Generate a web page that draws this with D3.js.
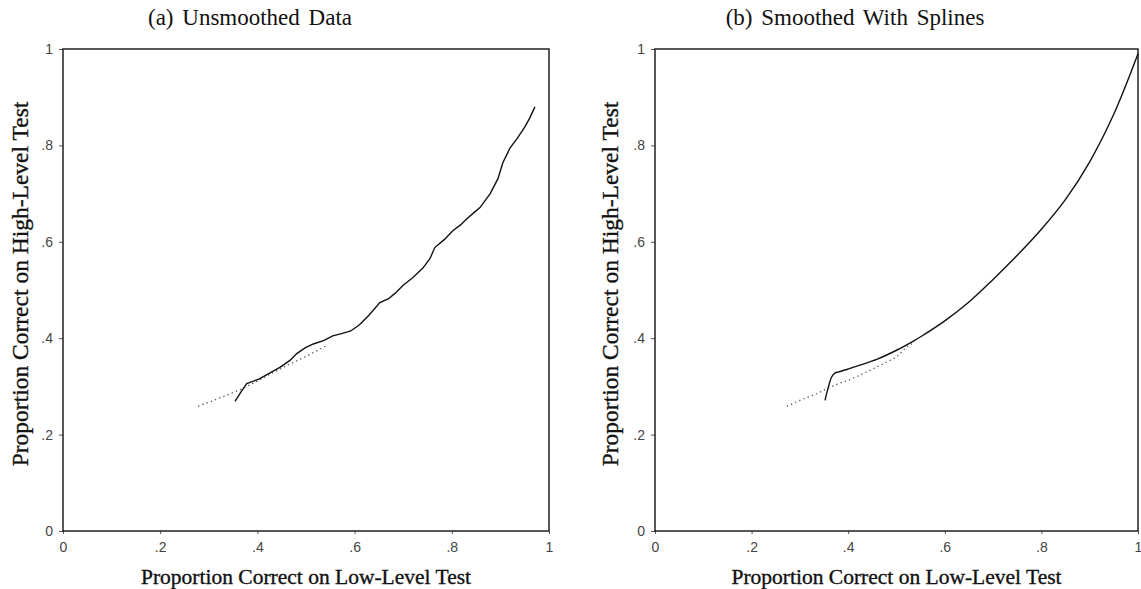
<!DOCTYPE html>
<html>
<head>
<meta charset="utf-8">
<script src="https://cdn.jsdelivr.net/npm/d3@7/dist/d3.min.js"></script>
<style>
  html, body { margin: 0; padding: 0; background: #fff; }
  svg { display: block; }
</style>
</head>
<body>
<svg id="chart" width="1141" height="589"></svg>
<script>
// ---------- data ----------
const tickValues = [0, 0.2, 0.4, 0.6, 0.8, 1];
const tickLabels = ["0", ".2", ".4", ".6", ".8", "1"];

const panelTitles = ["(a) Unsmoothed Data", "(b) Smoothed With Splines"];
const xAxisTitle = "Proportion Correct on Low-Level Test";
const yAxisTitle = "Proportion Correct on High-Level Test";

// (a) unsmoothed equating function (solid)
const unsmoothedX = [0.354,0.366,0.378,0.392,0.405,0.426,0.447,0.467,0.481,0.498,0.515,0.536,0.555,0.575,0.592,0.610,0.630,0.652,0.670,0.683,0.700,0.720,0.740,0.755,0.765,0.785,0.802,0.818,0.831,0.845,0.858,0.879,0.895,0.905,0.920,0.935,0.950,0.960,0.971];
const unsmoothedY = [0.269,0.288,0.306,0.311,0.316,0.328,0.340,0.354,0.368,0.380,0.388,0.395,0.405,0.410,0.415,0.428,0.448,0.474,0.482,0.493,0.510,0.526,0.545,0.565,0.588,0.605,0.623,0.635,0.648,0.660,0.671,0.700,0.731,0.764,0.795,0.815,0.838,0.856,0.880];

// (a) dotted reference line
const dottedAX = [0.278,0.300,0.330,0.364,0.400,0.429,0.460,0.500,0.543];
const dottedAY = [0.259,0.267,0.279,0.293,0.311,0.327,0.343,0.362,0.385];

// (b) spline-smoothed equating function (solid)
const splineX = [0.352,0.359,0.366,0.373,0.380,0.397,0.424,0.459,0.500,0.535,0.550,0.600,0.650,0.700,0.750,0.800,0.850,0.900,0.950,1.000];
const splineY = [0.271,0.299,0.320,0.328,0.330,0.335,0.344,0.356,0.375,0.394,0.403,0.436,0.475,0.522,0.572,0.626,0.688,0.766,0.865,0.990];

// (b) dotted reference line
const dottedBX = [0.273,0.300,0.335,0.355,0.383,0.404,0.438,0.473,0.500,0.521,0.538];
const dottedBY = [0.259,0.271,0.285,0.295,0.307,0.314,0.330,0.347,0.361,0.382,0.392];

// ---------- drawing ----------
const svg = d3.select("#chart");
const panels = [
  { left: 63, top: 49, width: 486, height: 482, titleX: 250, yLabelX: 28,
    solidX: unsmoothedX, solidY: unsmoothedY, dotX: dottedAX, dotY: dottedAY, curve: d3.curveLinear },
  { left: 655, top: 49, width: 483, height: 482, titleX: 855, yLabelX: 618,
    solidX: splineX, solidY: splineY, dotX: dottedBX, dotY: dottedBY, curve: d3.curveCatmullRom }
];

const serif = "'Liberation Serif', 'Times New Roman', serif";
const sans = "'Liberation Sans', Arial, sans-serif";

panels.forEach((p, i) => {
  const x = d3.scaleLinear().domain([0, 1]).range([0, p.width]);
  const y = d3.scaleLinear().domain([0, 1]).range([p.height, 0]);
  const g = svg.append("g").attr("transform", `translate(${p.left},${p.top})`);

  // title
  svg.append("text")
    .attr("x", p.titleX).attr("y", 25)
    .attr("text-anchor", "middle")
    .style("font-family", serif).style("font-size", "23px")
    .style("word-spacing", "3px")
    .attr("fill", "#111")
    .text(panelTitles[i]);

  // axes
  const fmt = (d) => tickLabels[tickValues.indexOf(d)];
  const xAxis = g.append("g").attr("transform", `translate(0,${p.height})`)
    .call(d3.axisBottom(x).tickValues(tickValues).tickFormat(fmt).tickSize(3).tickPadding(8));
  const yAxis = g.append("g")
    .call(d3.axisLeft(y).tickValues(tickValues).tickFormat(fmt).tickSize(4).tickPadding(6));
  [xAxis, yAxis].forEach(a => {
    a.select(".domain").remove();
    a.selectAll("line").attr("stroke", "#555");
    a.selectAll("text").style("font-family", sans).style("font-size", "14px").attr("fill", "#444");
  });

  // frame
  g.append("rect").attr("x", 0).attr("y", 0).attr("width", p.width).attr("height", p.height)
    .attr("fill", "none").attr("stroke", "#111").attr("stroke-width", 1.4);

  // dotted line
  const dotData = p.dotX.map((v, k) => [v, p.dotY[k]]);
  g.append("path").datum(dotData)
    .attr("d", d3.line().x(d => x(d[0])).y(d => y(d[1])))
    .attr("fill", "none").attr("stroke", "#555").attr("stroke-width", 1.3)
    .attr("stroke-dasharray", "1.3,3.2");

  // solid line
  const solidData = p.solidX.map((v, k) => [v, p.solidY[k]]);
  g.append("path").datum(solidData)
    .attr("d", d3.line().curve(p.curve).x(d => x(d[0])).y(d => y(d[1])))
    .attr("fill", "none").attr("stroke", "#111").attr("stroke-width", 1.4);

  // axis titles
  svg.append("text")
    .attr("x", p.left + p.width / 2).attr("y", 584)
    .attr("text-anchor", "middle")
    .style("font-family", serif).style("font-size", "21.5px")
    .attr("fill", "#111").attr("stroke", "#111").attr("stroke-width", 0.35)
    .text(xAxisTitle);
  svg.append("text")
    .attr("transform", `translate(${p.yLabelX},${284}) rotate(-90)`)
    .attr("text-anchor", "middle")
    .style("font-family", serif).style("font-size", "23.5px")
    .attr("fill", "#111").attr("stroke", "#111").attr("stroke-width", 0.35)
    .text(yAxisTitle);
});
</script>
</body>
</html>
